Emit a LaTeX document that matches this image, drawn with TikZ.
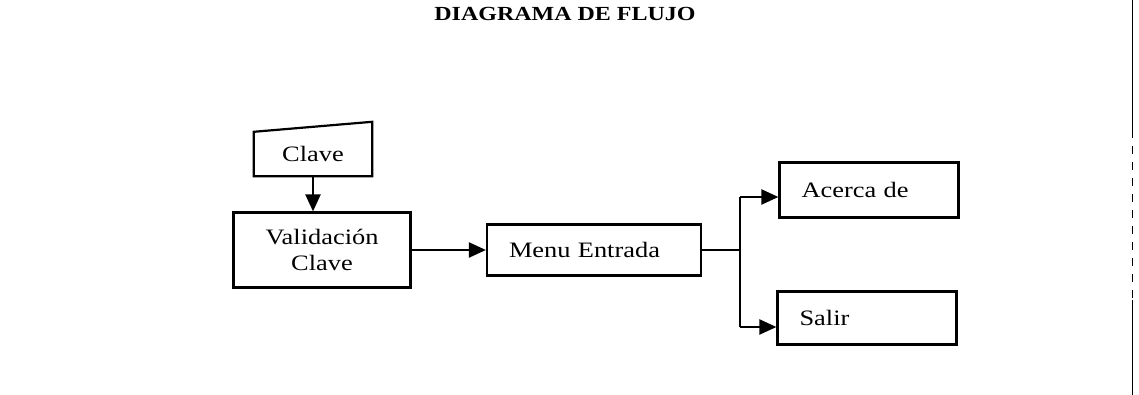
\documentclass[tikz,border=0pt]{standalone}
\usepackage{fontspec}
\setmainfont{Liberation Serif}[FakeStretch=1.2]
\usetikzlibrary{arrows.meta}
\tikzset{
  caja/.style={draw, line width=2.2pt, rectangle, inner xsep=22pt, inner ysep=0pt,
    text width=135pt, align=left, minimum height=54pt, font=\fontsize{22}{26}\selectfont},
  flecha/.style={line width=2.2pt, -{Triangle[length=17pt,width=15pt]}}
}
\begin{document}
\begin{tikzpicture}[x=1pt,y=-1pt]
  \useasboundingbox (0,0) rectangle (1139,395);
  \node[font=\bfseries\fontsize{20}{24}\selectfont] (titulo) at (565,14) {DIAGRAMA DE FLUJO};
  \draw
    (313,154) node[minimum width=118pt, minimum height=44pt, inner sep=0pt,
      font=\fontsize{22}{26}\selectfont] (clave) {Clave}
    (322,250) node[caja, align=center, inner xsep=10pt, text width=157pt,
      minimum height=75pt] (val) {Validación\\Clave}
    (594,250) node[caja, text width=170pt, minimum height=51pt] (menu) {Menu Entrada}
    (869,190) node[caja, minimum height=55pt] (acerca) {Acerca de}
    (867,318) node[caja, minimum height=53pt] (salir) {Salir};
  \coordinate (ja) at (740,197);
  \coordinate (js) at (740,327);
  % entrada manual
  \draw[line width=2.2pt] (clave.south west) -- (clave.north west)
    -- ([yshift=10pt]clave.north east) -- (clave.south east) -- cycle;
  \begin{scope}[line width=2.2pt]
    \draw[flecha] (clave.south) -- (clave.south |- val.north);
    \draw[flecha] (val.east) -- (menu.west);
    \draw (menu.east) -- (menu.east -| ja);
    \draw (ja) -- (js);
    \draw[flecha] (ja) -- (ja -| acerca.west);
    \draw[flecha] (js) -- (js -| salir.west);
  \end{scope}
  % borde
  \draw[line width=1pt] (1132,0) -- (1132,130);
  \draw[line width=1pt, dash pattern=on 8pt off 8pt] (1132,130) -- (1132,300);
  \draw[line width=1pt] (1132,300) -- (1132,395);
\end{tikzpicture}
\end{document}
